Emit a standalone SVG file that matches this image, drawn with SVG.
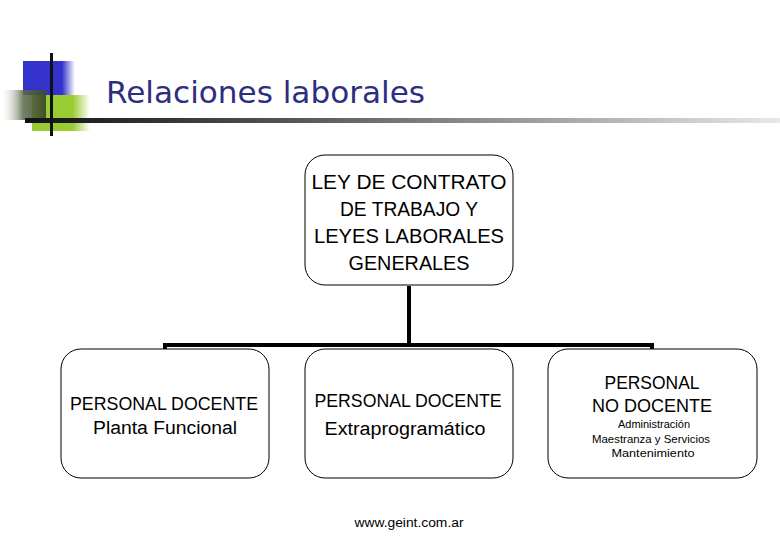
<svg xmlns="http://www.w3.org/2000/svg" width="780" height="540" viewBox="0 0 780 540">
<defs>
<linearGradient id="blueG" x1="0" y1="0" x2="1" y2="0">
<stop offset="0" stop-color="#3333cc"/><stop offset="0.75" stop-color="#3333cc"/><stop offset="1" stop-color="#3333cc" stop-opacity="0"/>
</linearGradient>
<linearGradient id="greenG" x1="0" y1="0" x2="1" y2="0">
<stop offset="0" stop-color="#99cc33"/><stop offset="0.7" stop-color="#99cc33"/><stop offset="1" stop-color="#99cc33" stop-opacity="0"/>
</linearGradient>
<linearGradient id="shadeG" x1="0" y1="0" x2="1" y2="0">
<stop offset="0" stop-color="#ffffff" stop-opacity="0"/><stop offset="0.5" stop-color="#5d6a4a" stop-opacity="0.85"/><stop offset="1" stop-color="#3d4a2a" stop-opacity="0.95"/>
</linearGradient>
<linearGradient id="lineG" x1="0" y1="0" x2="1" y2="0">
<stop offset="0" stop-color="#111111"/><stop offset="0.35" stop-color="#555555"/><stop offset="1" stop-color="#e8e8e8"/>
</linearGradient>
<style>
.box{fill:#ffffff;stroke:#000000;stroke-width:1}
.t{font-family:"Liberation Sans",Arial,sans-serif;fill:#000000;text-anchor:middle}
.big{font-size:20px}
.mid{font-size:18px}
.small{font-size:11px}
.conn{fill:none;stroke:#000000;stroke-width:4}
</style>
</defs>
<g id="decoration">
<rect x="23" y="61" width="52" height="34" fill="url(#blueG)"/>
<rect x="32" y="95" width="58" height="36" fill="url(#greenG)"/>
<rect x="0" y="90" width="46" height="30" fill="url(#shadeG)"/>
<rect x="25" y="118" width="755" height="5" fill="url(#lineG)"/>
<rect x="50" y="53" width="3" height="83" fill="#111111"/>
</g>
<text x="106" y="103" font-family="DejaVu Sans, sans-serif" font-size="31" fill="#2e2e80" textLength="319" lengthAdjust="spacingAndGlyphs">Relaciones laborales</text>
<g id="connectors">
<path class="conn" d="M409 286 V345"/>
<path class="conn" d="M165 351 V345 H652 V351"/>
</g>
<g id="top">
<rect class="box" x="305" y="155" width="208" height="130" rx="20"/>
<text class="t big" x="409" y="189" textLength="195" lengthAdjust="spacingAndGlyphs">LEY DE CONTRATO</text>
<text class="t big" x="409" y="216" textLength="138" lengthAdjust="spacingAndGlyphs">DE TRABAJO Y</text>
<text class="t big" x="409" y="243" textLength="190" lengthAdjust="spacingAndGlyphs">LEYES LABORALES</text>
<text class="t big" x="409" y="270" textLength="121" lengthAdjust="spacingAndGlyphs">GENERALES</text>
</g>
<g id="planta">
<rect class="box" x="61" y="349" width="208" height="129" rx="20"/>
<text class="t mid" x="164" y="410" textLength="188" lengthAdjust="spacingAndGlyphs">PERSONAL DOCENTE</text>
<text class="t mid" x="165" y="434" textLength="144" lengthAdjust="spacingAndGlyphs">Planta Funcional</text>
</g>
<g id="extra">
<rect class="box" x="305" y="349" width="208" height="129" rx="20"/>
<text class="t mid" x="408" y="407" textLength="187" lengthAdjust="spacingAndGlyphs">PERSONAL DOCENTE</text>
<text class="t mid" x="405" y="435" textLength="161" lengthAdjust="spacingAndGlyphs">Extraprogramático</text>
</g>
<g id="nodocente">
<rect class="box" x="548" y="349" width="209" height="129" rx="20"/>
<text class="t mid" x="652" y="389" textLength="95" lengthAdjust="spacingAndGlyphs">PERSONAL</text>
<text class="t mid" x="652" y="412" textLength="120" lengthAdjust="spacingAndGlyphs">NO DOCENTE</text>
<text class="t small" x="654" y="428" textLength="72" lengthAdjust="spacingAndGlyphs">Administración</text>
<text class="t small" x="651" y="443" textLength="118" lengthAdjust="spacingAndGlyphs">Maestranza y Servicios</text>
<text class="t small" x="653" y="457" textLength="83" lengthAdjust="spacingAndGlyphs">Mantenimiento</text>
</g>
<text x="409" y="527" font-family="Liberation Sans, Arial, sans-serif" font-size="12" text-anchor="middle" fill="#000000" textLength="109" lengthAdjust="spacingAndGlyphs">www.geint.com.ar</text>
</svg>
